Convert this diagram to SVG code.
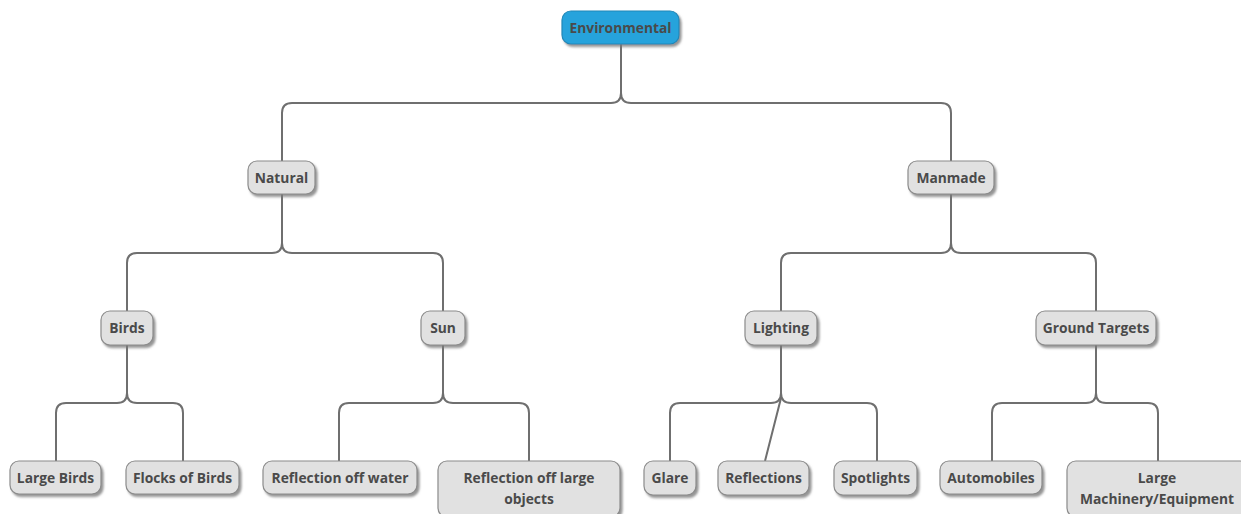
<svg xmlns="http://www.w3.org/2000/svg" width="1241" height="514" viewBox="0 0 1241 514">
  <defs>
    <filter id="shadow" x="-20%" y="-30%" width="140%" height="170%">
      <feDropShadow dx="2" dy="2.5" stdDeviation="1.2" flood-color="#7a7a7a" flood-opacity="0.8"/>
    </filter>
    <style>
      .box { fill: #e1e1e1; stroke: #8c8c8c; stroke-width: 1.2; filter: url(#shadow); }
      .root { fill: #27a3dc; stroke: #1f88b8; stroke-width: 1.2; filter: url(#shadow); }
      .lbl { font-family: "Open Sans", "Noto Sans", "Liberation Sans", sans-serif; font-weight: bold; font-size: 13.8px; fill: #4a4a4a; text-anchor: middle; dominant-baseline: central; }
      .edge { fill: none; stroke: #6f6f6f; stroke-width: 2; }
    </style>
  </defs>
  <rect width="1241" height="514" fill="#ffffff"/>

  <!-- tree connectors -->
  <g id="connectors">
    <!-- Environmental -> Natural / Manmade -->
    <path class="edge" d="M621,44 V93 Q621,103 611,103 H292 Q282,103 282,113 V161"/>
    <path class="edge" d="M621,44 V93 Q621,103 631,103 H941 Q951,103 951,113 V161"/>
    <!-- Natural -> Birds / Sun -->
    <path class="edge" d="M282,194 V243 Q282,253 272,253 H137 Q127,253 127,263 V311"/>
    <path class="edge" d="M282,194 V243 Q282,253 292,253 H433 Q443,253 443,263 V311"/>
    <!-- Manmade -> Lighting / Ground Targets -->
    <path class="edge" d="M951,194 V243 Q951,253 941,253 H791 Q781,253 781,263 V311"/>
    <path class="edge" d="M951,194 V243 Q951,253 961,253 H1086 Q1096,253 1096,263 V311"/>
    <!-- Birds -> leaves -->
    <path class="edge" d="M127,345 V393 Q127,403 117,403 H66 Q56,403 56,413 V461"/>
    <path class="edge" d="M127,345 V393 Q127,403 137,403 H173 Q183,403 183,413 V461"/>
    <!-- Sun -> leaves -->
    <path class="edge" d="M443,345 V393 Q443,403 433,403 H349 Q339,403 339,413 V461"/>
    <path class="edge" d="M443,345 V393 Q443,403 453,403 H519 Q529,403 529,413 V461"/>
    <!-- Lighting -> leaves -->
    <path class="edge" d="M781,345 V393 Q781,403 771,403 H680 Q670,403 670,413 V461"/>
    <path class="edge" d="M781,345 V398 L765,461"/>
    <path class="edge" d="M781,345 V393 Q781,403 791,403 H867 Q877,403 877,413 V461"/>
    <!-- Ground Targets -> leaves -->
    <path class="edge" d="M1096,345 V393 Q1096,403 1086,403 H1002 Q992,403 992,413 V461"/>
    <path class="edge" d="M1096,345 V393 Q1096,403 1106,403 H1148 Q1158,403 1158,413 V461"/>
  </g>

  <g id="environmental">
    <rect class="root" x="562" y="11" width="117" height="33" rx="9"/>
    <text class="lbl" x="620.5" y="27">Environmental</text>
  </g>

  <g id="natural">
    <rect class="box" x="248" y="161" width="67" height="33" rx="9"/>
    <text class="lbl" x="281.5" y="177">Natural</text>
  </g>
  <g id="manmade">
    <rect class="box" x="908" y="161" width="86" height="33" rx="9"/>
    <text class="lbl" x="951" y="177">Manmade</text>
  </g>

  <g id="birds">
    <rect class="box" x="101" y="311" width="52" height="34" rx="9"/>
    <text class="lbl" x="127" y="327">Birds</text>
  </g>
  <g id="sun">
    <rect class="box" x="421" y="311" width="44" height="34" rx="9"/>
    <text class="lbl" x="443" y="327">Sun</text>
  </g>
  <g id="lighting">
    <rect class="box" x="745" y="311" width="72" height="34" rx="9"/>
    <text class="lbl" x="781" y="327">Lighting</text>
  </g>
  <g id="ground-targets">
    <rect class="box" x="1036" y="311" width="120" height="34" rx="9"/>
    <text class="lbl" x="1096" y="327">Ground Targets</text>
  </g>

  <g id="large-birds">
    <rect class="box" x="10" y="461" width="91" height="33" rx="9"/>
    <text class="lbl" x="55.5" y="477">Large Birds</text>
  </g>
  <g id="flocks-of-birds">
    <rect class="box" x="126" y="461" width="113" height="33" rx="9"/>
    <text class="lbl" x="182.5" y="477">Flocks of Birds</text>
  </g>
  <g id="reflection-off-water">
    <rect class="box" x="263" y="461" width="154" height="33" rx="9"/>
    <text class="lbl" x="340" y="477">Reflection off water</text>
  </g>
  <g id="reflection-off-large-objects">
    <rect class="box" x="438" y="461" width="182" height="56" rx="9"/>
    <text class="lbl" x="529" y="477">Reflection off large</text>
    <text class="lbl" x="529" y="498">objects</text>
  </g>
  <g id="glare">
    <rect class="box" x="644" y="461" width="52" height="34" rx="9"/>
    <text class="lbl" x="670" y="477">Glare</text>
  </g>
  <g id="reflections">
    <rect class="box" x="718" y="461" width="91" height="34" rx="9"/>
    <text class="lbl" x="763.5" y="477">Reflections</text>
  </g>
  <g id="spotlights">
    <rect class="box" x="834" y="461" width="83" height="34" rx="9"/>
    <text class="lbl" x="875.5" y="477">Spotlights</text>
  </g>
  <g id="automobiles">
    <rect class="box" x="940" y="461" width="102" height="33" rx="9"/>
    <text class="lbl" x="991" y="477">Automobiles</text>
  </g>
  <g id="large-machinery">
    <rect class="box" x="1067" y="461" width="182" height="56" rx="9"/>
    <text class="lbl" x="1157" y="477">Large</text>
    <text class="lbl" x="1157" y="498">Machinery/Equipment</text>
  </g>
</svg>
